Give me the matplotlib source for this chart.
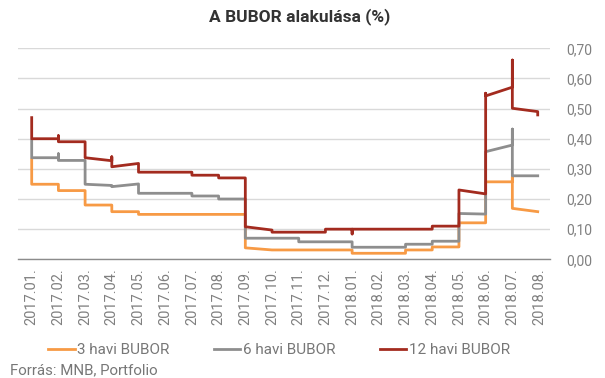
import matplotlib
matplotlib.use("Agg")
import matplotlib.pyplot as plt
import numpy as np

plt.rcParams['font.family'] = ['Roboto', 'DejaVu Sans']

# x is in months from 2017.01 (0 = start of January 2017)
months_labels = ["2017.01.", "2017.02.", "2017.03.", "2017.04.", "2017.05.",
                 "2017.06.", "2017.07.", "2017.08.", "2017.09.", "2017.10.",
                 "2017.11.", "2017.12.", "2018.01.", "2018.02.", "2018.03.",
                 "2018.04.", "2018.05.", "2018.06.", "2018.07.", "2018.08."]

x_3m = [0, 0, 1, 1, 2, 2, 3, 3, 4, 4, 8, 8, 9, 12, 12, 14, 14, 15, 15,
        16, 16, 17, 17, 18, 18, 18, 18.95]
y_3m = [0.332, 0.249, 0.249, 0.228, 0.228, 0.18, 0.18, 0.158, 0.158, 0.149,
        0.149, 0.038, 0.031, 0.031, 0.02, 0.02, 0.031, 0.031, 0.041, 0.041,
        0.121, 0.121, 0.257, 0.257, 0.274, 0.169, 0.158]

x_6m = [0, 0, 1, 1, 1, 2, 2, 3, 3, 4, 4, 6, 6, 7, 7, 8, 8, 10, 10, 12, 12,
        14, 14, 15, 15, 16, 16, 17, 17, 18, 18, 18, 18.95]
y_6m = [0.395, 0.337, 0.337, 0.35, 0.328, 0.328, 0.249, 0.245, 0.241, 0.25,
        0.219, 0.219, 0.21, 0.21, 0.20, 0.20, 0.07, 0.07, 0.058, 0.058, 0.04,
        0.04, 0.05, 0.05, 0.06, 0.06, 0.152, 0.15, 0.357, 0.379, 0.432, 0.277,
        0.277]

x_12m = [0, 0, 1, 1, 1, 2, 2, 3, 3, 3, 4, 4, 6, 6, 7, 7, 8, 8, 9, 9, 11, 11,
         12, 12, 12, 15, 15, 16, 16, 17, 17, 17, 18, 18, 18, 18.95, 18.95]
y_12m = [0.47, 0.40, 0.40, 0.41, 0.39, 0.39, 0.337, 0.327, 0.34, 0.307, 0.318,
         0.289, 0.289, 0.279, 0.279, 0.27, 0.27, 0.108, 0.097, 0.09, 0.09, 0.10,
         0.10, 0.084, 0.10, 0.10, 0.11, 0.11, 0.23, 0.217, 0.551, 0.542, 0.571,
         0.661, 0.501, 0.49, 0.479]

fig = plt.figure(figsize=(6.05, 3.78), dpi=100)
ax = fig.add_axes([18 / 605, 1 - 259.3 / 378, 532 / 605, 211 / 378])

ax.plot(x_3m, y_3m, color="#F79A45", lw=2.0, label="3 havi BUBOR")
ax.plot(x_6m, y_6m, color="#8E8E8E", lw=2.0, label="6 havi BUBOR")
ax.plot(x_12m, y_12m, color="#A32B1F", lw=2.0, label="12 havi BUBOR")

ax.set_xlim(-0.513, 19.41)
ax.set_ylim(0, 0.70)
ax.set_yticks(np.arange(0, 0.71, 0.1))
ax.set_yticklabels([f"{v:.2f}".replace(".", ",") for v in np.arange(0, 0.71, 0.1)])
ax.yaxis.tick_right()
ax.tick_params(axis='y', length=0, pad=12, labelsize=10, labelcolor="#808080")

ax.set_xticks(range(len(months_labels)))
ax.set_xticklabels(months_labels, rotation=90, va='top', ha='center')
ax.tick_params(axis='x', length=0, pad=6.5, labelsize=10.5, labelcolor="#808080")

ax.grid(axis='y', color="#D9D9D9", lw=1)
ax.set_axisbelow(True)
for s in ['top', 'left', 'right']:
    ax.spines[s].set_visible(False)
ax.spines['bottom'].set_color("#8C8C8C")
ax.spines['bottom'].set_linewidth(1)

fig.text(0.496, 0.955, "A BUBOR alakulása (%)", ha='center', va='center',
         fontsize=12.5, fontweight='bold', color="#333333")

fig.legend(loc='center left', bbox_to_anchor=(48 / 605, 1 - 350 / 378), ncol=3,
           frameon=False, fontsize=11, handlelength=1.75, handletextpad=0.15,
           columnspacing=2.9, labelcolor="#777777", borderaxespad=0, borderpad=0)

fig.text(0.016, 1 - 370 / 378, "Forrás: MNB, Portfolio", ha='left', va='center',
         fontsize=10.8, color="#777777")

fig.savefig("out.png", dpi=100)
